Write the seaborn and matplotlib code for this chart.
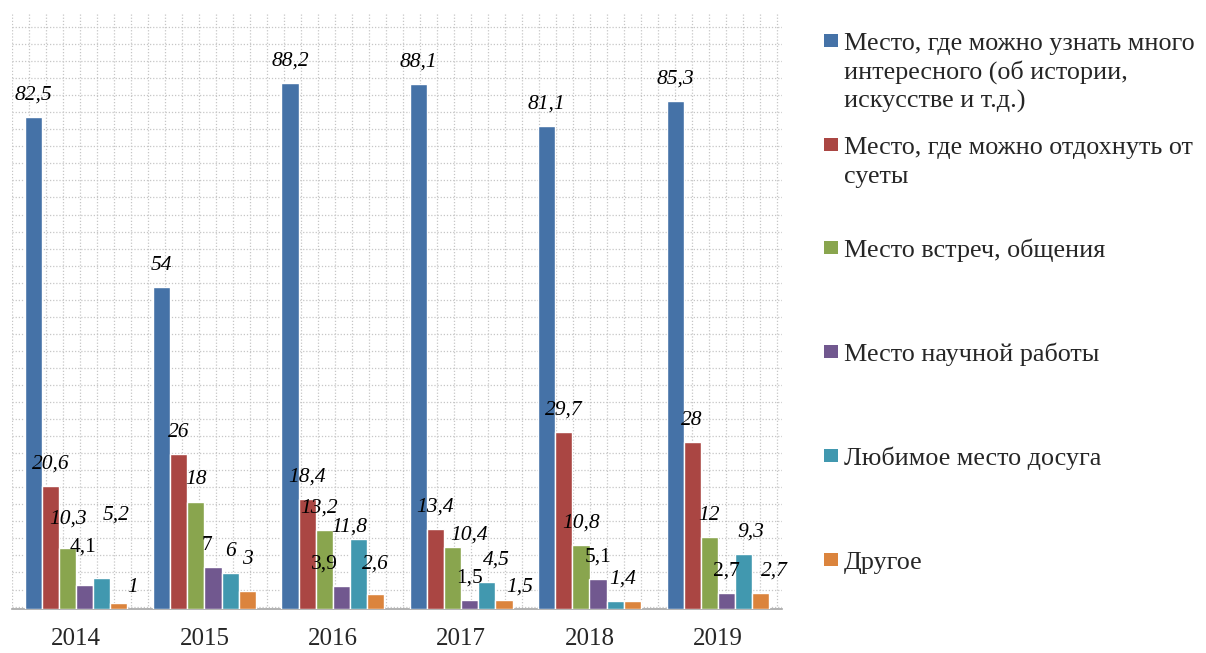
import matplotlib
matplotlib.use("Agg")
import matplotlib.pyplot as plt
from matplotlib.patches import Rectangle
import numpy as np
import pandas as pd
import seaborn as sns

# survey answers by year, %
years = ["2014", "2015", "2016", "2017", "2018", "2019"]
interesting = [82.5, 54, 88.2, 88.1, 81.1, 85.3]
rest = [20.6, 26, 18.4, 13.4, 29.7, 28]
meeting = [10.3, 18, 13.2, 10.4, 10.8, 12]
science = [4.1, 7, 3.9, 1.5, 5.1, 2.7]
leisure = [5.2, 6, 11.8, 4.5, 1.4, 9.3]
other = [1, 3, 2.6, 1.5, 1.4, 2.7]

categories = [
    "Место, где можно узнать много\nинтересного (об истории,\nискусстве и т.д.)",
    "Место, где можно отдохнуть от\nсуеты",
    "Место встреч, общения",
    "Место научной работы",
    "Любимое место досуга",
    "Другое",
]
series = [interesting, rest, meeting, science, leisure, other]
colors = ["#4572A7", "#AA4643", "#89A54E", "#71588F", "#4198AF", "#DB843D"]

# labels that the original chart does not show (overlapping)
hidden_labels = {(5, "2018")}
# labels that were moved by hand in the original, extra (dx, dy) in pixels
label_nudge = {
    (2, "2014"): (0, 7), (3, "2014"): (-2, 16), (4, "2014"): (14, 41), (5, "2014"): (14, -6),
    (3, "2015"): (-6, 0), (5, "2015"): (0, 10),
    (2, "2016"): (-5, 0), (3, "2016"): (-17, 0), (4, "2016"): (-9, -10), (5, "2016"): (0, 7),
    (2, "2017"): (16, -10), (4, "2017"): (10, 0), (5, "2017"): (16, -9),
    (4, "2018"): (8, 0), (4, "2019"): (7, 0), (5, "2019"): (14, 0),
}

rows = []
for cat, vals in zip(categories, series):
    for y, v in zip(years, vals):
        rows.append({"year": y, "category": cat, "value": v})
df = pd.DataFrame(rows)

sns.set_style("white")
plt.rcParams["font.family"] = ["Liberation Serif", "DejaVu Serif"]

W, H = 1206, 653
fig = plt.figure(figsize=(W / 100, H / 100), dpi=100)
ax = fig.add_axes([12 / W, 1 - 609 / H, 770 / W, 596 / H])

sns.barplot(data=df, x="year", y="value", hue="category", hue_order=categories,
            palette=colors, saturation=1, width=0.8, legend=False, ax=ax, zorder=3)

ax.set_xlim(-0.5, 5.5)
ax.set_ylim(0, 100)

# dotted background grid
grid_col = "#C6C6C6"
hy = np.arange(97.65, 0.2, -2.86)
ax.hlines(hy, -0.5, 5.5, colors=grid_col, linestyles=(0, (1, 1.5)), lw=0.9, zorder=0)
vx = -0.5 + np.arange(46) * 17 / 128.33
ax.vlines(vx, 0, 100, colors=grid_col, linestyles=(0, (1, 1.5)), lw=0.9, zorder=0)

# value labels
for i, cont in enumerate(ax.containers):
    for bar, y, v in zip(cont, years, series[i]):
        if (i, y) in hidden_labels:
            continue
        dx, dy = label_nudge.get((i, y), (0, 0))
        txt = f"{v:g}".replace(".", ",")
        ax.annotate(txt, (bar.get_x() + bar.get_width() / 2, bar.get_height()),
                    xytext=(dx, 22 + dy), textcoords="offset pixels", ha="center", va="center",
                    fontsize=15.5, style="normal" if i == 3 else "italic", color="black",
                    zorder=5)

for s in ["top", "left", "right"]:
    ax.spines[s].set_visible(False)
ax.spines["bottom"].set_color("#A6A6A6")
ax.spines["bottom"].set_linewidth(1.2)
ax.set_yticks([])
ax.set_xlabel("")
ax.set_ylabel("")
ax.set_xticks(range(len(years)), years)
ax.set_xticks(np.arange(-0.5, len(years), 1), minor=True)
ax.tick_params(axis="x", which="major", length=0, pad=14, labelsize=18)
ax.tick_params(axis="x", which="minor", length=6, width=1.2, color="#A6A6A6")

# legend on the right
for i, (cat, col) in enumerate(zip(categories, colors)):
    yc = 40 + 103.7 * i
    fig.patches.append(Rectangle((824 / W, 1 - (yc + 7) / H), 14 / W, 13 / H,
                                 transform=fig.transFigure, facecolor=col, edgecolor="none"))
    for k, line in enumerate(cat.split("\n")):
        fig.text(844 / W, 1 - (yc + 10 + 29 * k) / H, line, fontsize=18.8,
                 va="baseline", ha="left")

fig.savefig("out.png", dpi=100)
